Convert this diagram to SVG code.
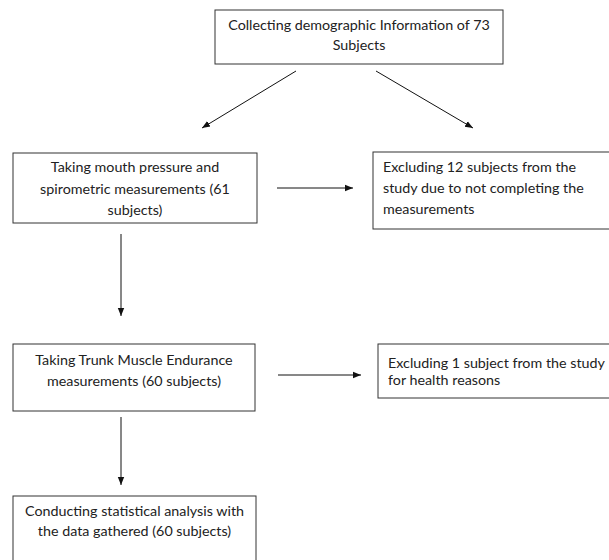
<svg xmlns="http://www.w3.org/2000/svg" width="609" height="560" viewBox="0 0 609 560">
<style>
.box{fill:#fff;stroke:#333;stroke-width:1}
.t{font-family:Lato,"Liberation Sans",sans-serif;font-size:14.3px;fill:#222}
.c{text-anchor:middle}
.edge{stroke:#111;stroke-width:1;fill:none;marker-end:url(#ah)}
</style>
<defs>
<marker id="ah" markerUnits="userSpaceOnUse" markerWidth="10" markerHeight="10" viewBox="0 0 10 10" refX="8" refY="5" orient="auto">
<path d="M0,1.8 L8,5 L0,8.2 Z" fill="#111"/>
</marker>
</defs>
<rect width="609" height="560" fill="#fff"/>
<g id="n1">
<rect class="box" x="215" y="10" width="288" height="54"/>
<text class="t c" x="359" y="29.5">Collecting demographic Information of 73</text>
<text class="t c" x="359" y="50">Subjects</text>
</g>
<g id="n2">
<rect class="box" x="13" y="153" width="244" height="70"/>
<text class="t c" x="135" y="172">Taking mouth pressure and</text>
<text class="t c" x="135" y="193.5">spirometric measurements (61</text>
<text class="t c" x="135" y="215">subjects)</text>
</g>
<g id="n3">
<rect class="box" x="373" y="152" width="240" height="77"/>
<text class="t" x="383" y="172">Excluding 12 subjects from the</text>
<text class="t" x="383" y="193">study due to not completing the</text>
<text class="t" x="383" y="214">measurements</text>
</g>
<g id="n4">
<rect class="box" x="13" y="344" width="242" height="67"/>
<text class="t c" x="134" y="365">Taking Trunk Muscle Endurance</text>
<text class="t c" x="134" y="386">measurements (60 subjects)</text>
</g>
<g id="n5">
<rect class="box" x="378" y="344" width="235" height="54"/>
<text class="t" x="388" y="368">Excluding 1 subject from the study</text>
<text class="t" x="388" y="385">for health reasons</text>
</g>
<g id="n6">
<rect class="box" x="13" y="496" width="243" height="70"/>
<text class="t c" x="134.5" y="516">Conducting statistical analysis with</text>
<text class="t c" x="134.5" y="536">the data gathered (60 subjects)</text>
</g>
<g id="connectors">
<path class="edge" d="M296,71 L202,128"/>
<path class="edge" d="M376,71 L473,128"/>
<path class="edge" d="M277,188 L353,188"/>
<path class="edge" d="M121,234 L121,316"/>
<path class="edge" d="M278,375 L361,375"/>
<path class="edge" d="M121,417 L121,485"/>
</g>
</svg>
